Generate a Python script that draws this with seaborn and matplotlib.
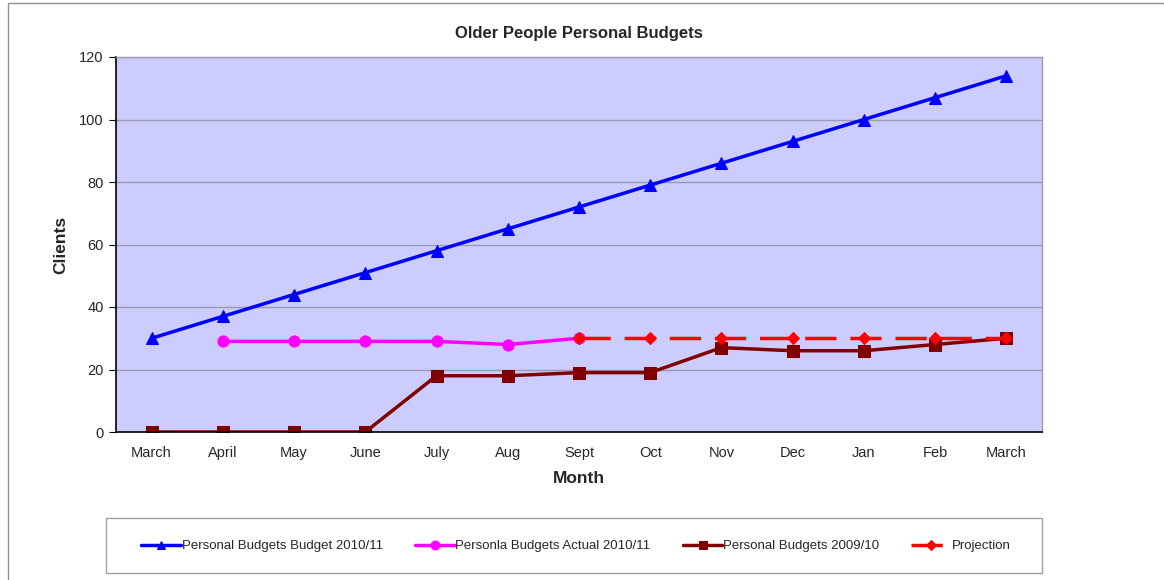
import pandas as pd
import numpy as np
import matplotlib
matplotlib.use("Agg")
import matplotlib.pyplot as plt
import seaborn as sns
from matplotlib.patches import Rectangle

# data
months = ["March", "April", "May", "June", "July", "Aug", "Sept", "Oct",
          "Nov", "Dec", "Jan", "Feb", "March"]
budget_2010 = [30, 37, 44, 51, 58, 65, 72, 79, 86, 93, 100, 107, 114]
actual_2010 = [np.nan, 29, 29, 29, 29, 28, 30] + [np.nan] * 6
budgets_2009 = [0, 0, 0, 0, 18, 18, 19, 19, 27, 26, 26, 28, 30]
projection = [np.nan] * 6 + [30, 30, 30, 30, 30, 30, 30]

sns.set_style("white")
plt.rcParams['font.family'] = ['Liberation Sans', 'DejaVu Sans']

pos = np.arange(len(months))
df = pd.DataFrame({"pos": pos, "budget": budget_2010, "actual": actual_2010,
                   "b2009": budgets_2009, "proj": projection})

fig = plt.figure(figsize=(11.64, 5.8), dpi=100)
ax = fig.add_axes([116/1164, 1 - 432/580, 926/1164, 375/580])
ax.set_facecolor("#CCCCFF")

# outer chart border
fig.patches.append(Rectangle((8/1164, -0.1), 1.2, 1 - 3/580 + 0.1, transform=fig.transFigure,
                             fill=False, edgecolor="#909090", linewidth=1))
# legend box
fig.patches.append(Rectangle((106/1164, 1 - 573/580), 936/1164, 55/580, transform=fig.transFigure,
                             fill=True, facecolor="white", edgecolor="#A0A0A0", linewidth=1))

sns.lineplot(data=df, x="pos", y="budget", ax=ax, color="#0000FF", linewidth=2.5,
             marker="^", markersize=8, markeredgecolor="#0000FF",
             label="Personal Budgets Budget 2010/11")
sns.lineplot(data=df.dropna(subset=["actual"]), x="pos", y="actual", ax=ax, color="#FF00FF",
             linewidth=2.5, marker="o", markersize=8, markeredgecolor="#FF00FF",
             label="Personla Budgets Actual 2010/11")
sns.lineplot(data=df, x="pos", y="b2009", ax=ax, color="#800000", linewidth=2.5,
             marker="s", markersize=8, markeredgecolor="#800000",
             label="Personal Budgets 2009/10")
sns.lineplot(data=df.dropna(subset=["proj"]), x="pos", y="proj", ax=ax, color="#FF0000",
             linewidth=2.5, marker="D", markersize=6, markeredgecolor="#FF0000",
             dashes=(9, 4), label="Projection")

ax.set_xlim(-0.5, len(months) - 0.5)
ax.set_ylim(0, 120)
ax.set_yticks(range(0, 121, 20))
ax.set_xticks(pos)
ax.set_xticklabels(months, fontsize=10.5)
ax.set_xticks(np.arange(-0.5, len(months), 1), minor=True)
ax.tick_params(axis="x", which="major", length=0, pad=10)
ax.tick_params(axis="x", which="minor", length=5, color="black", direction="out")
ax.tick_params(axis="y", length=5, color="black", direction="out", labelsize=10.5, left=True, pad=4)
ax.yaxis.grid(True, color="#9A9AB0", linewidth=1)
ax.set_axisbelow(True)
for s in ["left", "bottom"]:
    ax.spines[s].set_color("black")
    ax.spines[s].set_linewidth(1.2)
for s in ["top", "right"]:
    ax.spines[s].set_color("#9A9AB0")
    ax.spines[s].set_linewidth(1)

ax.set_title("Older People Personal Budgets", fontsize=12, fontweight="bold", pad=14)
ax.set_xlabel("Month", fontsize=12.5, fontweight="bold", labelpad=8)
ax.set_ylabel("Clients", fontsize=12.5, fontweight="bold", labelpad=8)

ax.get_legend().remove()
handles, labels = ax.get_legend_handles_labels()
leg = fig.legend(handles, labels, loc="center", ncol=4, fontsize=9.5,
                 bbox_to_anchor=(576/1164, 1 - 546/580), frameon=False,
                 handlelength=3.0, handletextpad=0.05, columnspacing=2.45,
                 markerscale=0.8)

fig.savefig("out.png", dpi=100, facecolor="white")
